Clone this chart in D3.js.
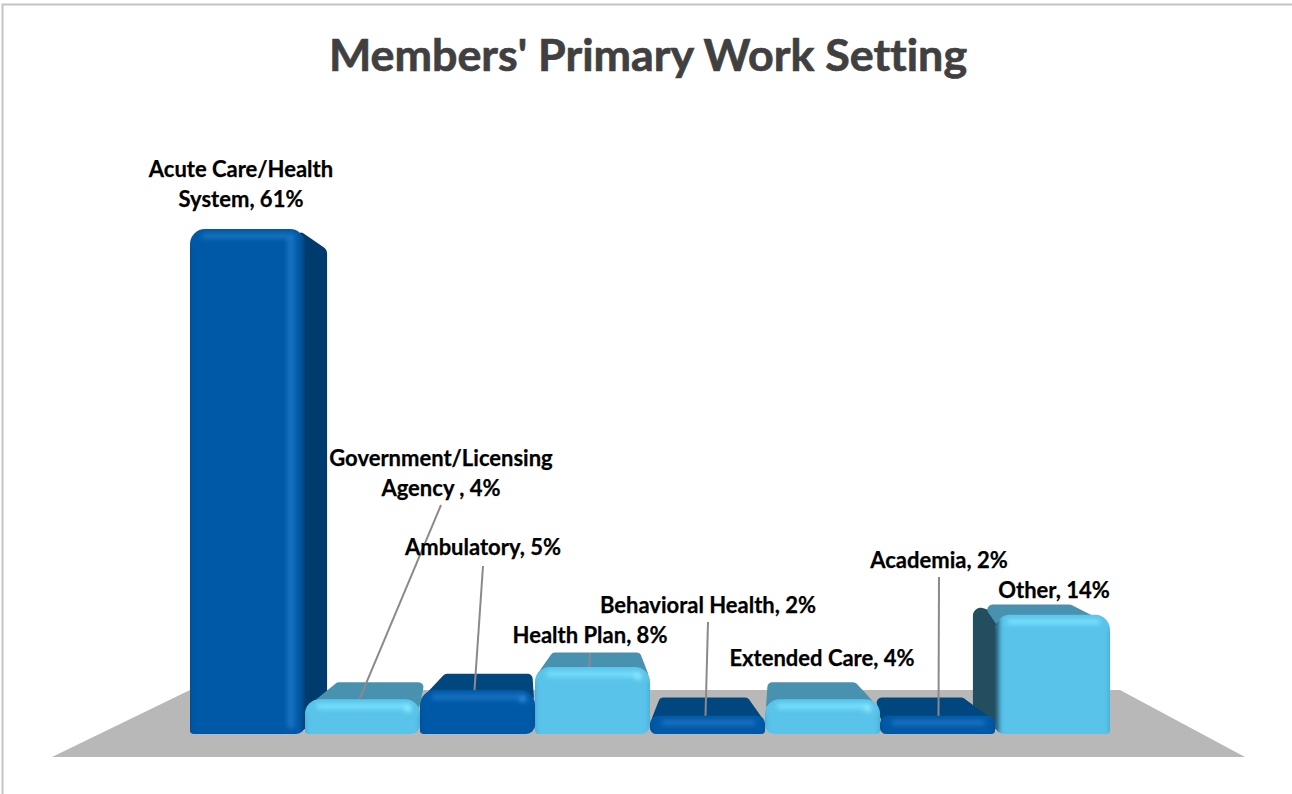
<!DOCTYPE html>
<html>
<head>
<meta charset="utf-8">
<script src="https://cdn.jsdelivr.net/npm/d3@7"></script>
<style>
  html, body { margin: 0; padding: 0; background: #fff; }
  svg { display: block; }
  text { font-family: Lato, Carlito, sans-serif; font-weight: 700; font-variant-ligatures: none; }
  .title { font-size: 44.8px; fill: #404040; stroke: #404040; stroke-width: 0.7px; }
  .label { font-size: 22px; fill: #000; stroke: #000; stroke-width: 0.25px; }
</style>
</head>
<body>
<svg id="chart" width="1292" height="794"></svg>
<script>
const categories = ['Acute Care/Health System', 'Government/Licensing Agency ', 'Ambulatory', 'Health Plan', 'Behavioral Health', 'Extended Care', 'Academia', 'Other']
const values = [61, 4.2, 5.3, 8.1, 2.2, 4.2, 2.2, 14.4]
const tones = ['dark', 'light', 'dark', 'light', 'dark', 'light', 'dark', 'light']
const titleText = "Members' Primary Work Setting"

const margin = { left: 190, right: 1110, base: 734, top: 229 }
const vanishX = 650
const depthX = 0.936 // how much the back of a bar shrinks toward the middle
const depthY = 0.92
const eyeY = 487
const backInset = 10 // the rounded box pulls its top face in at the back

const labelSpots = [
  { x: 241, y: 177, lines: ['Acute Care/Health', 'System, 61%'] },
  { x: 441, y: 466, lines: ['Government/Licensing', 'Agency , 4%'], from: [441, 505], nudge: -3 },
  { x: 483, y: 555, lines: ['Ambulatory, 5%'], from: [483, 566], nudge: -3 },
  { x: 590, y: 643, lines: ['Health Plan, 8%'], from: [590, 653], nudge: -3 },
  { x: 708, y: 613, lines: ['Behavioral Health, 2%'], from: [708, 622], nudge: -2 },
  { x: 822, y: 666, lines: ['Extended Care, 4%'] },
  { x: 939, y: 568, lines: ['Academia, 2%'], from: [939, 577], nudge: 1 },
  { x: 1054, y: 598, lines: ['Other, 14%'] }
]

const palette = {
  dark: { front: '#0059a6', top: '#00477f', side: '#003b6d', glow: '#1a74c4', edge: '#00478a', spot: '#2f8ade' },
  light: { front: '#59c3ea', top: '#4892b0', side: '#234e60', glow: '#7ce4ff', edge: '#3fa3cb', spot: '#92f0ff' }
}

const svg = d3.select('#chart')
const defs = svg.append('defs')
defs.append('filter').attr('id', 'soft')
  .attr('filterUnits', 'userSpaceOnUse')
  .attr('x', 0).attr('y', 0).attr('width', 1292).attr('height', 794)
  .append('feGaussianBlur').attr('stdDeviation', 2.4)

const xScale = d3.scaleBand()
  .domain(categories)
  .range([margin.left, margin.right])

const yScale = d3.scaleLinear()
  .domain([0, 61])
  .range([margin.base, margin.top])

const backX = x => vanishX + (x - vanishX) * depthX
const backY = y => eyeY + (y - eyeY) * depthY

// closed outline through pts, every corner rounded with its own radius
function rounded (pts, radii) {
  const p = d3.path()
  const n = pts.length
  const mid = (a, b) => [(a[0] + b[0]) / 2, (a[1] + b[1]) / 2]
  const start = mid(pts[n - 1], pts[0])
  p.moveTo(start[0], start[1])
  pts.forEach((pt, i) => {
    const next = pts[(i + 1) % n]
    const m = mid(pt, next)
    p.arcTo(pt[0], pt[1], m[0], m[1], radii[i])
    p.lineTo(m[0], m[1])
  })
  p.closePath()
  return p.toString()
}

// page frame
svg.append('path')
  .attr('d', 'M2.5,794V4.5H1292')
  .attr('fill', 'none')
  .attr('stroke', '#c4c4c4')
  .attr('stroke-width', 2)

svg.append('text')
  .attr('class', 'title')
  .attr('x', 648)
  .attr('y', 71)
  .attr('text-anchor', 'middle')
  .text(titleText)

// floor
svg.append('polygon')
  .attr('points', [[52, 757], [190, 690], [1120, 690], [1245, 757]].join(' '))
  .attr('fill', '#b8b8b8')

const bars = categories.map((c, i) => ({ c, i, v: values[i], tone: tones[i], x0: xScale(c), x1: xScale(c) + xScale.bandwidth() }))
const drawOrder = bars.slice().sort((a, b) => Math.abs(b.x0 + b.x1 - 2 * vanishX) - Math.abs(a.x0 + a.x1 - 2 * vanishX))

const gBars = svg.append('g').attr('class', 'bars')
drawOrder.forEach(d => {
  const col = palette[d.tone]
  const yTop = yScale(d.v)
  const yBase = yScale(0)
  const h = yBase - yTop
  const r = Math.min(15, h * 0.42)
  const foot = Math.min(9, h * 0.35)
  const bx0 = backX(d.x0)
  const bx1 = backX(d.x1)
  const byTop = backY(yTop)
  const byBase = backY(yBase)
  const leftHalf = (d.x0 + d.x1) / 2 < vanishX
  const tall = h > 80
  const g = gBars.append('g')

  // side face, the one turned to the middle of the chart
  if (tall && bx1 > d.x1 + 1) {
    g.append('path')
      .attr('d', rounded([[d.x1 - 8, yTop], [bx1, byTop], [bx1, byBase], [d.x1 - 8, yBase]], [4, 8, 4, 4]))
      .attr('fill', col.side)
  }
  if (tall && bx0 < d.x0 - 1) {
    g.append('path')
      .attr('d', rounded([[d.x0 + 8, yTop], [bx0, byTop], [bx0, byBase], [d.x0 + 8, yBase]], [4, 8, 4, 4]))
      .attr('fill', col.side)
  }

  // top face, only seen when the bar stays under eye level
  if (byTop < yTop) {
    const shoulder = yTop + r * 0.6
    g.append('path')
      .attr('d', rounded([[d.x0 + 1, shoulder], [bx0 + backInset, byTop], [bx1 - backInset, byTop], [d.x1 - 1, shoulder]], [2, 5, 5, 2]))
      .attr('fill', col.top)
  }

  // front face with its bevel
  const feet = leftHalf ? [4, r, r, foot] : [foot, r, r, 4]
  const front = rounded([[d.x0, yBase], [d.x0, yTop], [d.x1, yTop], [d.x1, yBase]], feet)
  defs.append('clipPath').attr('id', `clip${d.i}`).append('path').attr('d', front)
  g.append('path').attr('d', front).attr('fill', col.front)

  const bevel = g.append('g').attr('clip-path', `url(#clip${d.i})`)
    .append('g').attr('filter', 'url(#soft)').attr('fill', 'none')

  bevel.append('path')
    .attr('d', `M${d.x0 - 3},${yTop + r}V${yBase + 4}M${d.x1 + 3},${yTop + r}V${yBase + 4}`)
    .attr('stroke', col.edge)
    .attr('stroke-width', 7)
  bevel.append('path')
    .attr('d', `M${d.x0 + 12},${yTop + 7}H${d.x1 - 10}`)
    .attr('stroke', col.glow)
    .attr('stroke-width', 5)

  if (tall && bx0 < d.x0 - 10) {
    bevel.append('path')
      .attr('d', `M${d.x0 - 1},${yTop + 2}V${yBase}`)
      .attr('stroke', col.side)
      .attr('stroke-width', 9)
  }
  if (tall && bx1 > d.x1 + 10) {
    bevel.append('path')
      .attr('d', `M${d.x1 - 14},${yTop + 8}V${yBase - 6}`)
      .attr('stroke', col.glow)
      .attr('stroke-width', 7)
    bevel.append('path')
      .attr('d', `M${d.x1 + 1},${yTop + 8}V${yBase}`)
      .attr('stroke', col.side)
      .attr('stroke-width', 6)
  } else if (h > 25 && h < 80) {
    bevel.append('circle')
      .attr('cx', d.x1 - 12)
      .attr('cy', yTop + 9)
      .attr('r', 3.5)
      .attr('fill', col.spot)
  }
})

// leader lines and labels
labelSpots.forEach((s, i) => {
  const band = xScale(categories[i])
  if (s.from) {
    svg.append('line')
      .attr('x1', s.from[0])
      .attr('y1', s.from[1])
      .attr('x2', band + xScale.bandwidth() / 2 + s.nudge)
      .attr('y2', yScale(values[i]))
      .attr('stroke', '#8a8a8a')
      .attr('stroke-width', 2)
  }
  s.lines.forEach((line, n) => {
    svg.append('text')
      .attr('class', 'label')
      .attr('x', s.x)
      .attr('y', s.y + n * 30)
      .attr('text-anchor', 'middle')
      .text(line)
  })
})
</script>
</body>
</html>
